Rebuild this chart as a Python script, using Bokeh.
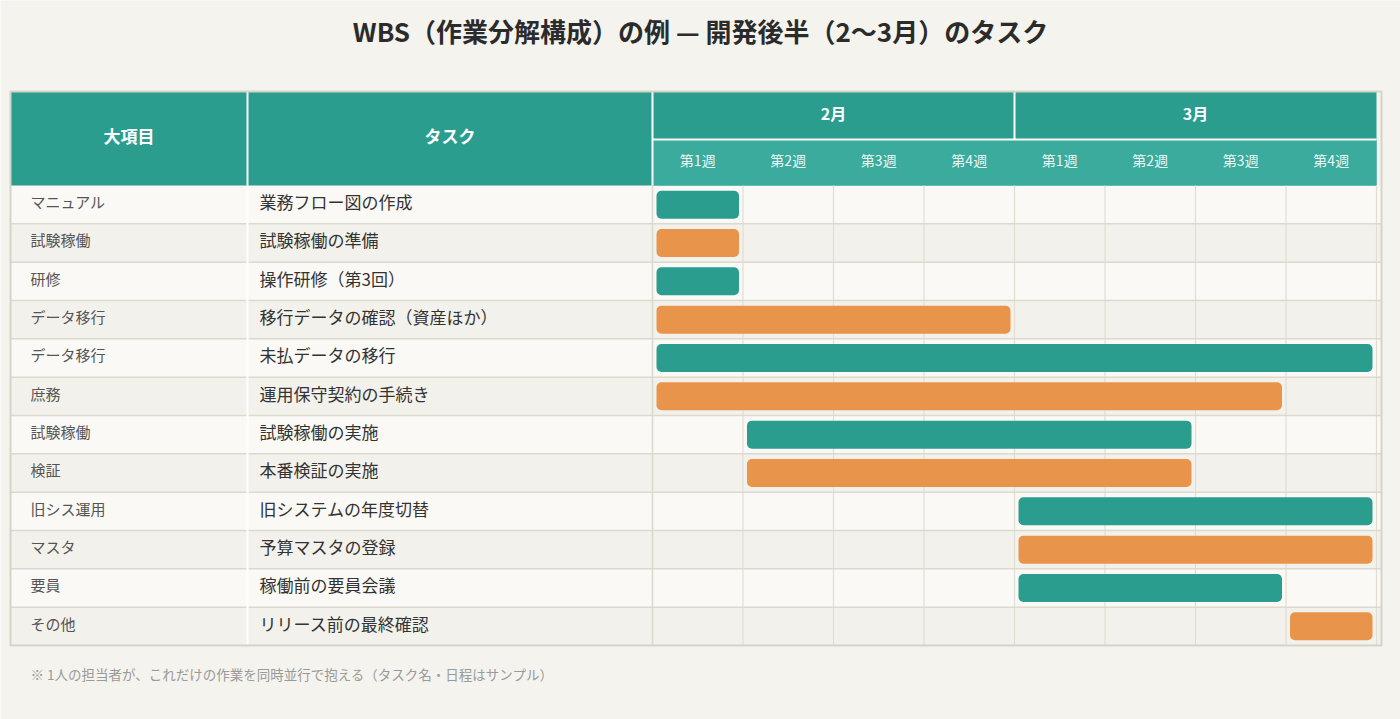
from bokeh.plotting import figure
from bokeh.models import Range1d
from bokeh.core.properties import value
from bokeh.embed import file_html
from bokeh.resources import INLINE

# ---- data ----
title = "WBS（作業分解構成）の例 — 開発後半（2～3月）のタスク"
col_headers = ["大項目", "タスク"]
months = ["2月", "3月"]
weeks = ["第1週", "第2週", "第3週", "第4週"]
categories = ["マニュアル", "試験稼働", "研修", "データ移行", "データ移行", "庶務",
              "試験稼働", "検証", "旧シス運用", "マスタ", "要員", "その他"]
tasks = ["業務フロー図の作成", "試験稼働の準備", "操作研修（第3回）", "移行データの確認（資産ほか）",
         "未払データの移行", "運用保守契約の手続き", "試験稼働の実施", "本番検証の実施",
         "旧システムの年度切替", "予算マスタの登録", "稼働前の要員会議", "リリース前の最終確認"]
start_week = [0, 0, 0, 0, 0, 0, 1, 1, 4, 4, 4, 7]   # first week (0 = 2月第1週)
end_week = [1, 1, 1, 4, 8, 7, 6, 6, 8, 8, 7, 8]     # week after the last one
note = "※ 1人の担当者が、これだけの作業を同時並行で抱える（タスク名・日程はサンプル）"

# ---- layout (x in weeks, y in rows) ----
W, H = 1400, 719
WEEK_PX, ROW_PX = 90.5, 38.33
GX0, GY0 = 652, 185            # pixel position of week 0 / row 0
def wx(px): return (px - GX0) / WEEK_PX
def ry(py): return (py - GY0) / ROW_PX
LIFT = 3 / ROW_PX              # optical correction for CJK text centring

TEAL, ORANGE = "#2a9d8f", "#e9944b"
SUBHEAD = "#3aab9c"
BG = "#f4f3ee"
FONT = value("Noto Sans CJK JP")

n_rows = len(tasks)
n_weeks = len(months) * len(weeks)
x_left, x_split = wx(10), wx(247)
x_right_hdr, x_right = n_weeks, wx(1381)
y_head, y_sub = ry(91), ry(139)

p = figure(width=W, height=H, output_backend="svg", toolbar_location=None,
           x_range=Range1d(wx(0), wx(W)), y_range=Range1d(ry(H), ry(0)),
           x_axis_location=None, y_axis_location=None, min_border=0,
           background_fill_color=BG, border_fill_color=BG, outline_line_color=None)
p.grid.visible = False

# body rows, alternating shades
rows = list(range(n_rows))
p.quad(left=x_left, right=x_right, top=rows, bottom=[r + 1 for r in rows],
       fill_color=["#faf9f5" if r % 2 == 0 else "#f2f1eb" for r in rows], line_color=None)

# header blocks
p.quad(left=x_left, right=x_right_hdr, top=y_head, bottom=0, fill_color=TEAL, line_color=None)
p.quad(left=0, right=x_right_hdr, top=y_sub, bottom=0, fill_color=SUBHEAD, line_color=None)

# grid lines in the body
p.segment(x0=list(range(n_weeks + 1)), x1=list(range(n_weeks + 1)), y0=0, y1=n_rows,
          line_color="#e1ded4", line_width=1.2)
p.segment(x0=x_left, x1=x_right, y0=list(range(1, n_rows)), y1=list(range(1, n_rows)),
          line_color="#dcd9cf", line_width=1.5)
p.segment(x0=x_split, x1=x_split, y0=0, y1=n_rows, line_color="#ffffff", line_width=2)
p.segment(x0=0, x1=0, y0=0, y1=n_rows, line_color="#dcd9cf", line_width=1.5)

# header separators
p.segment(x0=[x_split, 0, len(weeks)], x1=[x_split, 0, len(weeks)],
          y0=[y_head, y_head, y_head], y1=[0, 0, y_sub], line_color="#ffffff", line_width=2)
p.segment(x0=0, x1=x_right_hdr, y0=y_sub, y1=y_sub, line_color="#ffffff", line_width=2)

# outer frame
p.quad(left=x_left, right=x_right, top=y_head, bottom=n_rows, fill_color=None,
       line_color="#d6d3c7", line_width=2)

# task bars
p.hbar(y=[r + 0.5 for r in rows], left=[s + 4 / WEEK_PX for s in start_week],
       right=[e - 4 / WEEK_PX for e in end_week], height=28 / ROW_PX,
       fill_color=[TEAL if r % 2 == 0 else ORANGE for r in rows], line_color=None,
       border_radius=5)

# header texts
p.text(x=[(x_left + x_split) / 2, (x_split + 0) / 2], y=[y_head / 2 - LIFT] * 2, text=col_headers,
       text_font=FONT, text_font_size="17px", text_font_style="bold", text_color="#ffffff",
       text_align="center", text_baseline="middle")
p.text(x=[len(weeks) * (i + 0.5) for i in range(len(months))],
       y=[(y_head + y_sub) / 2 - LIFT] * len(months),
       text=months, text_font=FONT, text_font_size="16px", text_font_style="bold",
       text_color="#ffffff", text_align="center", text_baseline="middle")
p.text(x=[i + 0.5 for i in range(n_weeks)], y=[y_sub / 2 - LIFT] * n_weeks, text=weeks * len(months),
       text_font=FONT, text_font_size="14px", text_color="#eaf6f4",
       text_align="center", text_baseline="middle")

# body texts
p.text(x=[wx(30)] * n_rows, y=[r + 0.5 - LIFT for r in rows], text=categories, text_font=FONT,
       text_font_size="15px", text_color="#555555", text_align="left", text_baseline="middle")
p.text(x=[wx(259)] * n_rows, y=[r + 0.5 - LIFT for r in rows], text=tasks, text_font=FONT,
       text_font_size="17px", text_color="#333333", text_align="left", text_baseline="middle")

# title and note
p.text(x=[wx(W / 2)], y=[ry(30)], text=[title], text_font=FONT, text_font_size="26px",
       text_font_style="bold", text_color="#2b2b2b", text_align="center", text_baseline="middle")
p.text(x=[wx(30)], y=[ry(673)], text=[note], text_font=FONT, text_font_size="13.5px",
       text_color="#9a9a9a", text_align="left", text_baseline="middle")

open("out.html", "w").write(file_html(p, INLINE))
